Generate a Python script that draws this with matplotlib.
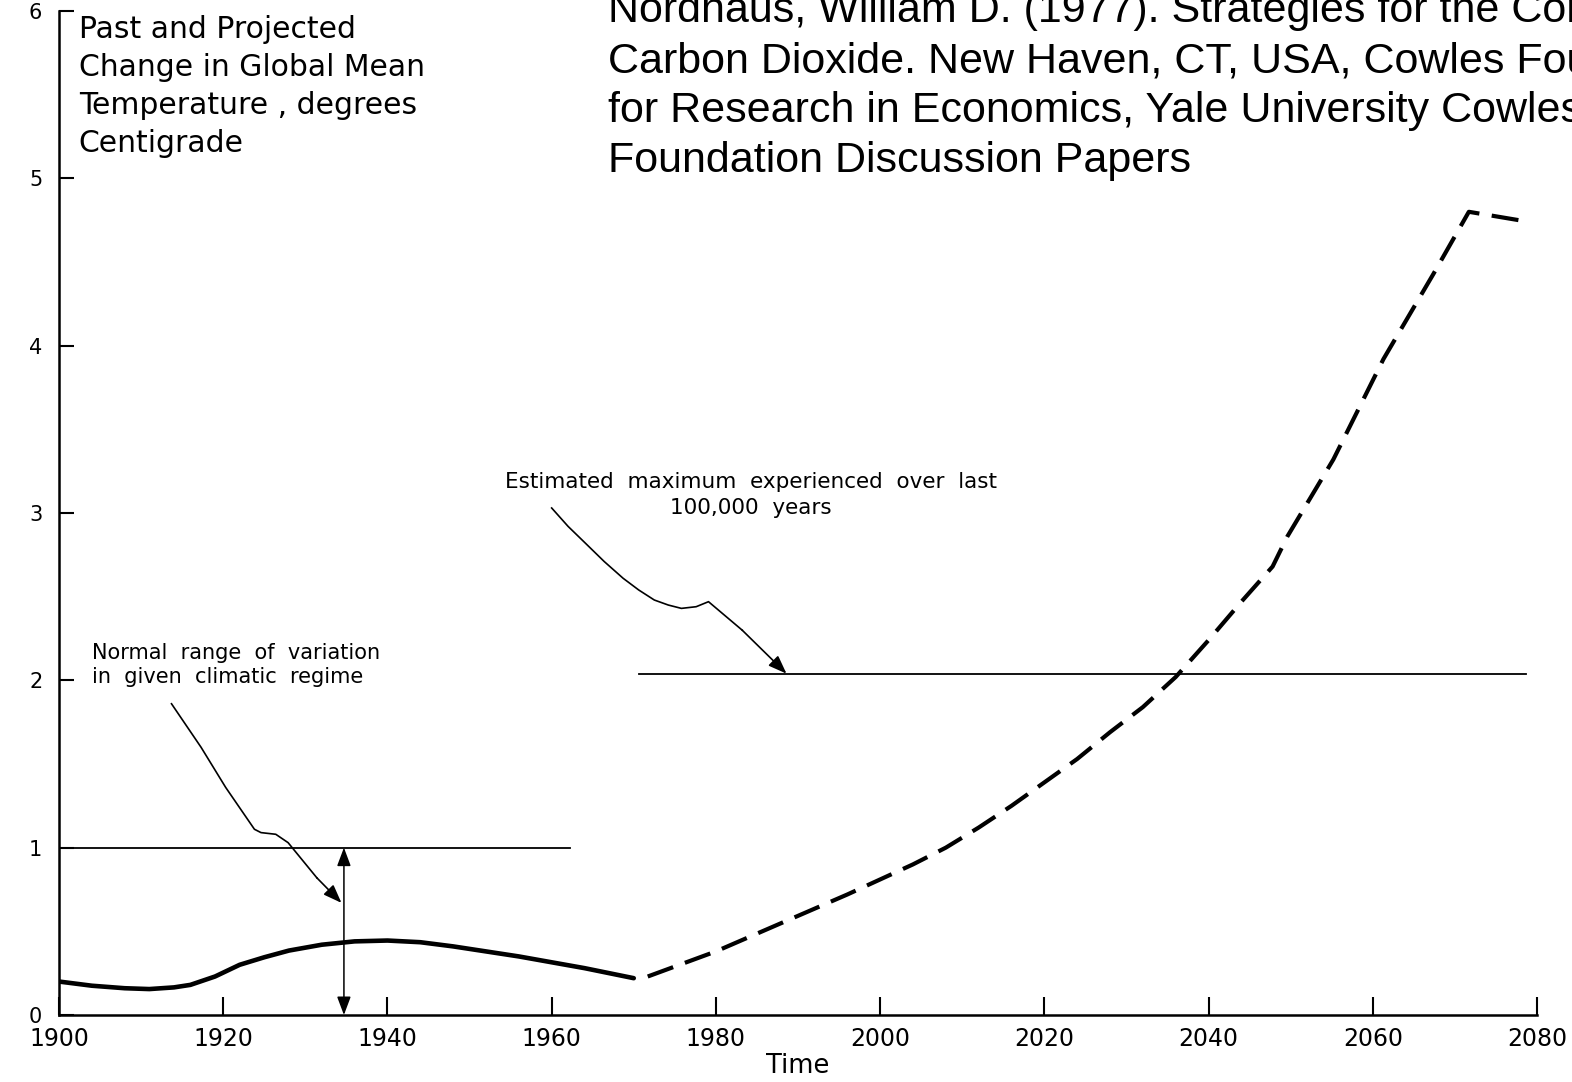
import matplotlib

matplotlib.use("Agg")

import matplotlib.pyplot as plt


# ============================================================
# DATA
# ============================================================

# past observed change, solid line
PAST_YEARS = [
    1900, 1904, 1908, 1911, 1914, 1916, 1919, 1922, 1925, 1928, 1932,
    1936, 1940, 1944, 1948, 1952, 1956, 1960, 1964, 1968, 1970,
]
PAST_TEMP = [
    0.20, 0.175, 0.16, 0.155, 0.165, 0.18, 0.23, 0.30, 0.345, 0.385, 0.42,
    0.44, 0.445, 0.435, 0.41, 0.38, 0.35, 0.315, 0.28, 0.24, 0.22,
]

# projected change, dashed line
PROJ_YEARS = [
    1971.7, 1980, 1988, 1996, 2000, 2004, 2008, 2012, 2016, 2020,
    2024, 2028, 2032, 2036, 2040, 2044, 2047.8, 2049.6, 2055.2,
    2061.3, 2067.4, 2071.7, 2079.0,
]
PROJ_TEMP = [
    0.23, 0.38, 0.55, 0.72, 0.81, 0.90, 1.00, 1.12, 1.25, 1.39,
    1.53, 1.69, 1.84, 2.02, 2.24, 2.47, 2.68, 2.86, 3.32,
    3.92, 4.43, 4.80, 4.74,
]

# reference levels
NORMAL_RANGE = 1.0
NORMAL_RANGE_SPAN = [1900, 1962.2]
MAX_100K = 2.04
MAX_100K_SPAN = [1970.6, 2078.6]
RANGE_ARROW_YEAR = 1934.7

# annotation leader paths (year, degrees)
NORMAL_LEADER_X = [1913.7, 1917.3, 1920.3, 1923.8, 1924.6, 1926.4, 1927.9,
                   1929.4, 1931.4, 1934.4]
NORMAL_LEADER_Y = [1.86, 1.60, 1.36, 1.11, 1.09, 1.08, 1.03,
                   0.94, 0.82, 0.67]
MAX_LEADER_X = [1960.0, 1962.0, 1964.1, 1966.4, 1968.7, 1970.6, 1972.5,
                1974.2, 1975.8, 1977.6, 1979.1, 1983.2, 1988.6]
MAX_LEADER_Y = [3.03, 2.92, 2.82, 2.71, 2.61, 2.54, 2.48,
                2.45, 2.43, 2.44, 2.47, 2.30, 2.04]

X_TICKS = [1900, 1920, 1940, 1960, 1980, 2000, 2020, 2040, 2060, 2080]
Y_TICKS = [0, 1, 2, 3, 4, 5, 6]

TITLE_LINES = [
    "Past and Projected",
    "Change in Global Mean",
    "Temperature , degrees",
    "Centigrade",
]
NORMAL_LINES = [
    "Normal  range  of  variation",
    "in  given  climatic  regime",
]
MAX_LINES = [
    "Estimated  maximum  experienced  over  last",
    "100,000  years",
]
CITATION_LINES = [
    "Nordhaus, William D. (1977). Strategies for the Control of",
    "Carbon Dioxide. New Haven, CT, USA, Cowles Foundation",
    "for Research in Economics, Yale University Cowles",
    "Foundation Discussion Papers",
]


# ============================================================
# FIGURE
# ============================================================

plt.rcParams["font.family"] = ["DejaVu Sans"]

W, H = 1572, 1082
fig = plt.figure(figsize=(W / 100, H / 100), dpi=100)
fig.patch.set_facecolor("white")

ax = fig.add_axes([59 / W, 67 / H, 1478 / W, 1004 / H])
ax.set_xlim(1900, 2080)
ax.set_ylim(0, 6)

for side in ["top", "right"]:
    ax.spines[side].set_visible(False)
for side in ["left", "bottom"]:
    ax.spines[side].set_linewidth(1.8)

ax.set_xticks(X_TICKS)
ax.set_xticklabels([str(t) for t in X_TICKS])
ax.set_yticks(Y_TICKS)
ax.set_yticklabels([str(t) for t in Y_TICKS])

ax.tick_params(axis="x", direction="in", length=13, width=1.5,
               pad=9, labelsize=17)
ax.tick_params(axis="y", direction="in", length=11, width=1.5,
               pad=12, labelsize=15)

ax.set_xlabel("Time", fontsize=18.5, labelpad=1)


# ============================================================
# CURVES
# ============================================================

ax.plot(PAST_YEARS, PAST_TEMP, color="black", lw=3.3,
        solid_capstyle="round")

ax.plot(PROJ_YEARS, PROJ_TEMP, color="black", lw=3.0,
        dashes=(6.5, 3.0))

ax.plot(NORMAL_RANGE_SPAN, [NORMAL_RANGE, NORMAL_RANGE],
        color="black", lw=1.3)
ax.plot(MAX_100K_SPAN, [MAX_100K, MAX_100K], color="black", lw=1.3)

# vertical double arrow: normal range of variation
ax.annotate(
    "",
    xy=(RANGE_ARROW_YEAR, NORMAL_RANGE),
    xytext=(RANGE_ARROW_YEAR, 0),
    arrowprops=dict(
        arrowstyle="<|-|>,head_length=0.8,head_width=0.3",
        mutation_scale=14,
        color="black",
        lw=1.1,
        shrinkA=0,
        shrinkB=0,
    ),
)


# ============================================================
# ANNOTATIONS
# ============================================================

def leader(xs, ys):
    ax.plot(xs[:-1], ys[:-1], color="black", lw=1.2)
    ax.annotate(
        "",
        xy=(xs[-1], ys[-1]),
        xytext=(xs[-2], ys[-2]),
        arrowprops=dict(
            arrowstyle="-|>,head_length=0.8,head_width=0.3",
            mutation_scale=14,
            color="black",
            lw=1.2,
            shrinkA=0,
            shrinkB=0,
        ),
    )


leader(NORMAL_LEADER_X, NORMAL_LEADER_Y)
leader(MAX_LEADER_X, MAX_LEADER_Y)

for i, line in enumerate(TITLE_LINES):
    ax.text(1902.4, 5.84 - i * 0.228, line, fontsize=21.5,
            ha="left", va="baseline", clip_on=False)

for i, line in enumerate(NORMAL_LINES):
    ax.text(1904.0, 2.13 - i * 0.145, line, fontsize=15,
            ha="left", va="baseline")

for i, line in enumerate(MAX_LINES):
    ax.text(1984.3, 3.15 - i * 0.155, line, fontsize=15.5,
            ha="center", va="baseline")

for i, line in enumerate(CITATION_LINES):
    fig.text(608 / W, 1 - (22 + i * 50) / H, line,
             family=["Liberation Sans", "DejaVu Sans"],
             fontsize=31, ha="left", va="baseline")

fig.savefig("out.png", dpi=100, facecolor="white")
